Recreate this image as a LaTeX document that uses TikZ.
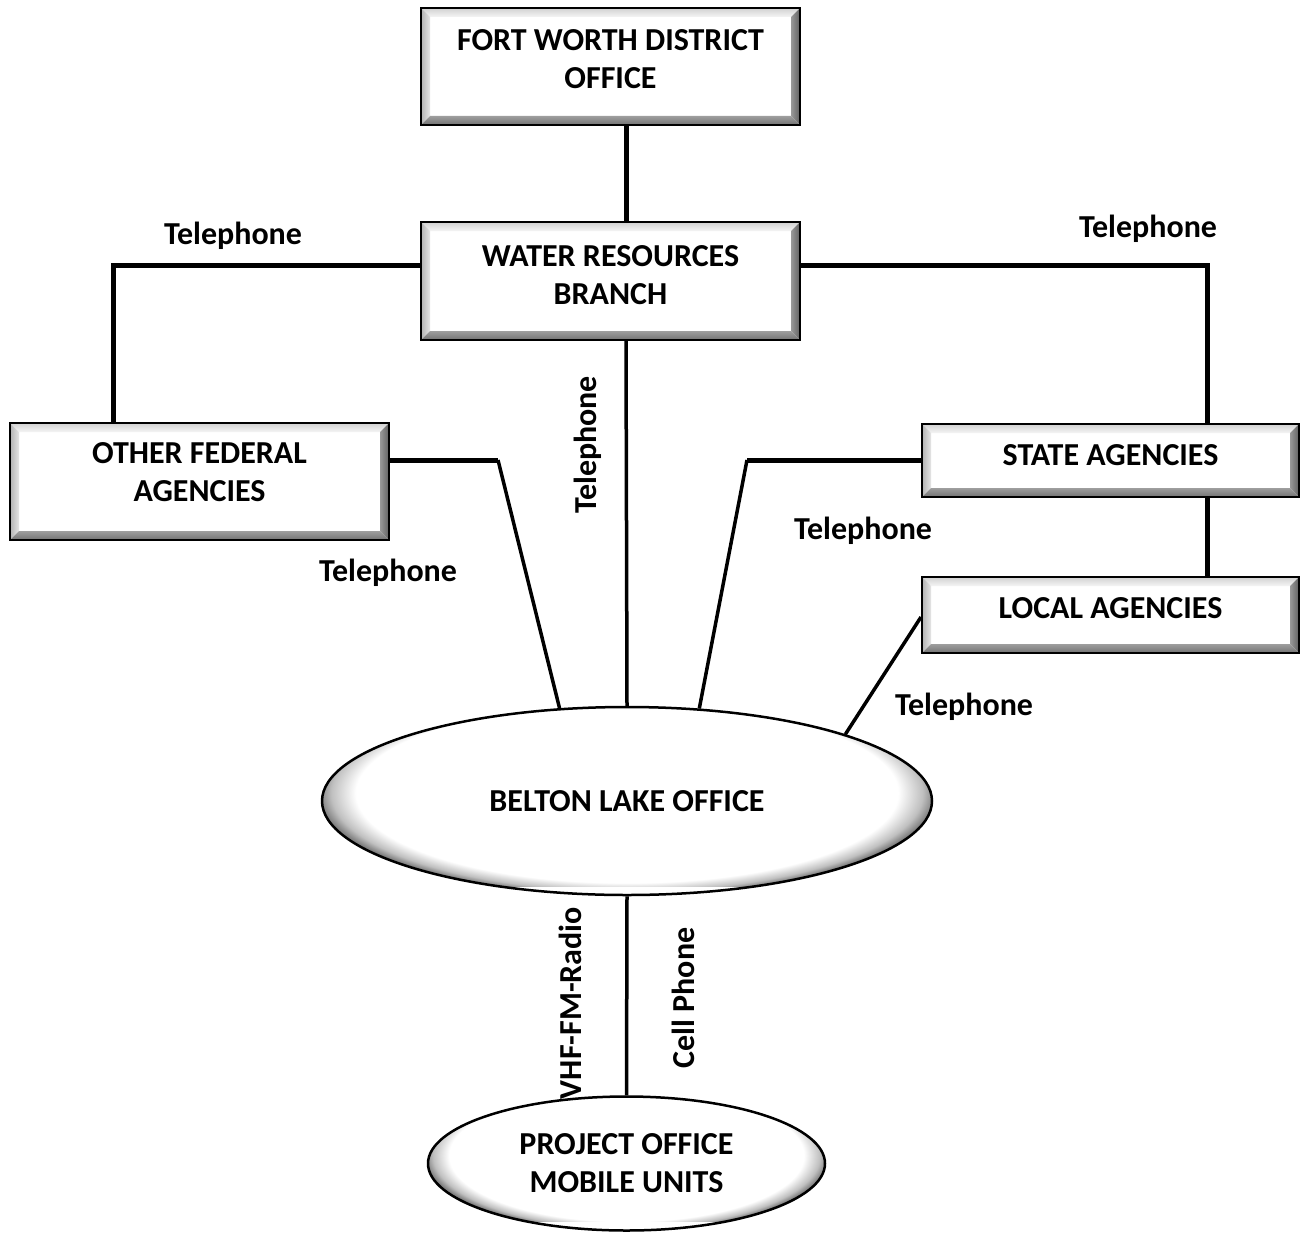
\documentclass[tikz,border=0pt]{standalone}
\usepackage{fontspec}
\setmainfont{Carlito}
\usetikzlibrary{shapes.geometric,calc}
\pgfdeclareradialshading{rimshade}{\pgfpoint{0bp}{0bp}}{color(0bp)=(white); color(22bp)=(white); color(24bp)=(black!25); color(25bp)=(black!50); color(50bp)=(black!50)}
\tikzset{
  bevbox/.style={draw=black, line width=2pt, fill=white, rectangle, inner sep=0pt,
    align=center, font=\fontsize{32}{38}\selectfont\bfseries,
    path picture={
      \coordinate (ppA) at (path picture bounding box.south west);
      \coordinate (ppB) at (path picture bounding box.north east);
      \coordinate (ppC) at (ppA|-ppB);
      \coordinate (ppD) at (ppB|-ppA);
      \coordinate (ppa) at ([xshift=9pt,yshift=9pt]ppA);
      \coordinate (ppb) at ([xshift=-9pt,yshift=-9pt]ppB);
      \coordinate (ppc) at ([xshift=9pt,yshift=-9pt]ppC);
      \coordinate (ppd) at ([xshift=-9pt,yshift=9pt]ppD);
      \shade[top color=black!18, bottom color=black!4] (ppC) -- (ppB) -- (ppb) -- (ppc) -- cycle;
      \shade[left color=black!30, right color=black!10] (ppA) -- (ppC) -- (ppc) -- (ppa) -- cycle;
      \shade[left color=black!40, right color=black!62] (ppD) -- (ppB) -- (ppb) -- (ppd) -- cycle;
      \shade[top color=black!38, bottom color=black!55] (ppA) -- (ppD) -- (ppd) -- (ppa) -- cycle;
    }},
  ovalbox/.style={draw=black, line width=2.5pt, ellipse, inner sep=0pt, align=center,
    font=\fontsize{32}{38}\selectfont\bfseries,
    path picture={
      \shade[shading=rimshade] ([xshift=-3pt,yshift=9pt]path picture bounding box.south west) rectangle ([xshift=3pt,yshift=16pt]path picture bounding box.north east);
    }},
  thickln/.style={line width=5pt},
  thinln/.style={line width=3.5pt},
  lbl/.style={font=\fontsize{32}{38}\selectfont\bfseries, inner sep=0pt},
}
\begin{document}
\begin{tikzpicture}[x=1pt,y=-1pt]
\useasboundingbox[fill=white] (0,0) rectangle (1306,1236);
% boxes
\node[bevbox, minimum width=379pt, minimum height=117pt, text depth=14pt] (fw) at (610.5,66.5) {FORT WORTH DISTRICT\\OFFICE};
\node[bevbox, minimum width=379pt, minimum height=118pt, text depth=12pt] (wrb) at (610.5,281) {WATER RESOURCES\\BRANCH};
\node[bevbox, minimum width=379pt, minimum height=117pt, text depth=18pt] (ofa) at (199.5,481.5) {OTHER FEDERAL\\AGENCIES};
\node[bevbox, minimum width=377pt, minimum height=73pt, text depth=10pt] (sta) at (1110.5,460.5) {STATE AGENCIES};
\node[bevbox, minimum width=377pt, minimum height=76pt, text depth=14pt] (loc) at (1110.5,615) {LOCAL AGENCIES};
\node[ovalbox, minimum width=610pt, minimum height=188pt] (bel) at (627,801) {BELTON LAKE OFFICE};
\node[ovalbox, minimum width=397pt, minimum height=134pt] (pro) at (626.5,1163.5) {PROJECT OFFICE\\MOBILE UNITS};
% corner coordinates
\coordinate (cwl) at (113,265);
\coordinate (cwr) at (1207,265);
\coordinate (col) at (498,460);
\coordinate (csl) at (747,460);
% connectors
\draw[thickln] (626,0 |- fw.south) -- (626,0 |- wrb.north);
\draw[thickln] (wrb.west |- cwl) -- (cwl) -- (cwl |- ofa.north);
\draw[thickln] (wrb.east |- cwr) -- (cwr) -- (cwr |- sta.north);
\draw[thickln] (ofa.east |- col) -- (col);
\draw[thinln] (col) -- (bel.126.1);
\draw[thinln] (626,0 |- wrb.south) -- (bel.north);
\draw[thickln] (sta.west |- csl) -- (csl);
\draw[thinln] (csl) -- (bel.52);
\draw[thickln] (1207,0 |- sta.south) -- (1207,0 |- loc.north);
\draw[thinln] (loc.west |- 0,617) -- (bel.17);
\draw[thinln] (bel.south) -- (pro.north);
% labels
\node[lbl] (t1) at (233,236) {Telephone};
\node[lbl] (t2) at (1148,229) {Telephone};
\node[lbl] (t3) at (388,573) {Telephone};
\node[lbl] (t4) at (863,531) {Telephone};
\node[lbl] (t5) at (964,707) {Telephone};
\node[lbl, rotate=90] (t6) at (588,445) {Telephone};
\node[lbl, rotate=90] (t7) at (570,1003) {VHF-FM-Radio};
\node[lbl, rotate=90] (t8) at (683,998) {Cell Phone};
\end{tikzpicture}
\end{document}
